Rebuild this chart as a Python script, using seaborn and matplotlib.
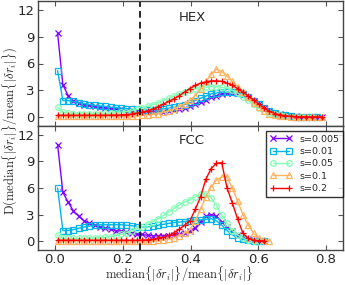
import numpy as np
import pandas as pd
import matplotlib
matplotlib.use("Agg")
import matplotlib.pyplot as plt
import seaborn as sns

# ---------------- data ----------------
n_bins = 64  # histogram bins on [0, 1]
labels = ["s=0.005", "s=0.01", "s=0.05", "s=0.1", "s=0.2"]

hex_s0005 = [9.4, 3.6, 2.4, 1.8, 1.6, 1.4, 1.3, 1.2, 1.1, 1.0, 1.0, 0.9, 0.85, 0.8, 0.75, 0.7,
             0.68, 0.63, 0.6, 0.6, 0.62, 0.68, 0.75, 0.85, 1.0, 1.2, 1.45, 1.7, 1.95, 2.2, 2.4,
             2.6, 2.7, 2.75, 2.7, 2.5, 2.2, 1.85, 1.45, 1.05, 0.72, 0.47, 0.3, 0.2, 0.12, 0.08,
             0.05, 0.03, 0.02, 0.01, 0.01]
hex_s001 = [5.2, 1.85, 1.85, 1.75, 1.6, 1.5, 1.4, 1.3, 1.25, 1.2, 1.1, 1.05, 1.0, 0.95, 0.9, 0.85,
            0.82, 0.8, 0.82, 0.85, 0.92, 1.0, 1.1, 1.2, 1.4, 1.6, 1.85, 2.1, 2.35, 2.6, 2.7,
            2.8, 2.85, 2.85, 2.75, 2.55, 2.25, 1.85, 1.45, 1.05, 0.7, 0.45, 0.28, 0.18, 0.1,
            0.06, 0.04, 0.02, 0.01, 0.01]
hex_s005 = [1.1, 0.55, 0.45, 0.4, 0.4, 0.4, 0.4, 0.4, 0.4, 0.42, 0.45, 0.5, 0.55, 0.62, 0.7, 0.85,
            1.0, 1.2, 1.4, 1.6, 1.85, 2.1, 2.35, 2.6, 2.8, 3.0, 3.15, 3.3, 3.35, 3.4, 3.4,
            3.35, 3.2, 3.0, 2.7, 2.3, 1.9, 1.45, 1.05, 0.7, 0.45, 0.3, 0.18, 0.1, 0.06, 0.04,
            0.02, 0.01, 0.0]
hex_s01 = [0.15, 0.1, 0.1, 0.1, 0.1, 0.1, 0.1, 0.1, 0.1, 0.1, 0.12, 0.12, 0.12, 0.13, 0.15, 0.17,
           0.2, 0.25, 0.3, 0.4, 0.55, 0.7, 0.9, 1.2, 1.5, 1.9, 2.4, 3.1, 4.0, 4.8, 5.35,
           5.1, 4.6, 4.0, 3.4, 2.8, 2.2, 1.6, 1.1, 0.7, 0.4, 0.25, 0.15, 0.08, 0.04, 0.02,
           0.02, 0.01, 0.01, 0.0, 0.0]
hex_s02 = [0.2, 0.2, 0.2, 0.2, 0.2, 0.2, 0.2, 0.2, 0.2, 0.2, 0.22, 0.22, 0.24, 0.27, 0.35, 0.45,
           0.55, 0.7, 0.9, 1.15, 1.45, 1.75, 2.05, 2.4, 2.8, 3.2, 3.55, 3.8, 3.95, 4.05, 4.05,
           4.0, 3.8, 3.55, 3.2, 2.8, 2.35, 1.9, 1.45, 1.0, 0.65, 0.4, 0.25, 0.15, 0.1, 0.06,
           0.04, 0.03, 0.02, 0.01, 0.01]

fcc_s0005 = [10.9, 5.5, 4.4, 3.4, 2.8, 2.3, 2.0, 1.8, 1.6, 1.5, 1.35, 1.2, 1.1, 1.0, 0.9, 0.8,
             0.75, 0.65, 0.6, 0.6, 0.6, 0.6, 0.65, 0.75, 0.9, 1.1, 1.5, 2.2, 2.8, 3.0, 2.8,
             2.2, 1.6, 1.1, 0.7, 0.4, 0.2, 0.1, 0.05, 0.02]
fcc_s001 = [6.0, 1.2, 1.2, 1.3, 1.45, 1.6, 1.7, 1.8, 1.85, 1.85, 1.85, 1.85, 1.85, 1.8, 1.75,
            1.65, 1.6, 1.6, 1.7, 1.8, 1.9, 2.0, 2.1, 2.15, 2.2, 2.3, 2.35, 2.4, 2.45, 2.55, 2.3,
            1.8, 1.2, 0.7, 0.4, 0.2, 0.1, 0.05, 0.02, 0.01]
fcc_s005 = [0.7, 0.35, 0.3, 0.3, 0.3, 0.3, 0.35, 0.35, 0.4, 0.45, 0.5, 0.6, 0.75, 0.95, 1.15,
            1.4, 1.65, 1.9, 2.2, 2.55, 2.9, 3.3, 3.7, 4.1, 4.4, 4.7, 5.0, 5.3, 5.35, 4.9, 4.0,
            2.9, 2.0, 1.2, 0.7, 0.35, 0.15, 0.07, 0.03, 0.01]
fcc_s01 = [0.05, 0.05, 0.05, 0.05, 0.05, 0.05, 0.05, 0.05, 0.05, 0.05, 0.05, 0.05, 0.05, 0.05,
           0.05, 0.05, 0.05, 0.05, 0.06, 0.1, 0.15, 0.25, 0.4, 0.6, 0.9, 1.3, 2.3, 3.6, 5.0,
           6.1, 6.9, 7.25, 7.2, 6.0, 4.5, 3.0, 1.8, 0.9, 0.35, 0.1, 0.03]
fcc_s02 = [0.1, 0.1, 0.1, 0.1, 0.1, 0.1, 0.1, 0.1, 0.1, 0.1, 0.1, 0.1, 0.1, 0.1, 0.1, 0.1,
           0.12, 0.15, 0.2, 0.3, 0.45, 0.65, 0.95, 1.35, 1.8, 2.3, 3.6, 5.0, 7.0, 8.2, 8.8,
           8.85, 6.0, 4.3, 2.5, 0.9, 0.3, 0.1, 0.05, 0.02]

hex_series = [hex_s0005, hex_s001, hex_s005, hex_s01, hex_s02]
fcc_series = [fcc_s0005, fcc_s001, fcc_s005, fcc_s01, fcc_s02]
panel_names = ["HEX", "FCC"]

# ---------------- style ----------------
sns.set_style("ticks")
plt.rcParams["font.family"] = ["DejaVu Sans"]
plt.rcParams["mathtext.fontset"] = "cm"

cmap = plt.get_cmap("rainbow")
colors = [cmap(v) for v in (0.0, 0.25, 0.5, 0.75, 1.0)]
markers = ["x", "s", "o", "^", "+"]

fig = plt.figure(figsize=(3.45, 2.85), dpi=100)
L, R = 38 / 345, 343 / 345
ax_top = fig.add_axes([L, 1 - 126 / 285, R - L, 125 / 285])
ax_bot = fig.add_axes([L, 1 - 250 / 285, R - L, 124 / 285], sharex=ax_top)

for ax, series, name, ty in zip([ax_top, ax_bot], [hex_series, fcc_series], panel_names, [11.1, 11.4]):
    for vals, lab, col, mk in zip(series, labels, colors, markers):
        xs = (np.arange(len(vals)) + 0.5) / n_bins
        df = pd.DataFrame({"x": xs, "y": vals})
        sns.lineplot(data=df, x="x", y="y", ax=ax, color=col, marker=mk, label=lab,
                     markersize=4, markerfacecolor="none", markeredgecolor=col,
                     markeredgewidth=0.9, linewidth=1.0, legend=False)
    ax.axvline(0.25, color="black", linestyle="--", linewidth=1.2, dashes=(4, 2.5))
    ax.text(0.405, ty, name, ha="center", va="center", fontsize=9.5)
    ax.set_ylim(-1, 13)
    ax.set_yticks([0, 3, 6, 9, 12])
    ax.set_xlim(-0.05, 0.85)
    ax.set_xticks([0.0, 0.2, 0.4, 0.6, 0.8])
    ax.set_xlabel("")
    ax.set_ylabel("")
    ax.tick_params(direction="in", top=True, right=True, length=3.5, width=0.8,
                   labelsize=9.5, color="#555555", pad=2.5)
    for sp in ax.spines.values():
        sp.set_color("#444444")
        sp.set_linewidth(1.0)

ax_top.tick_params(labelbottom=False)
ax_bot.tick_params(axis="x", pad=2)
ax_bot.set_xticklabels(["0.0", "0.2", "0.4", "0.6", "0.8"])

xl = ax_bot.set_xlabel(r"$\mathrm{median}\{|\delta r_i|\}/\mathrm{mean}\{|\delta r_i|\}$",
                       fontsize=9)
ax_bot.xaxis.set_label_coords(0.462, -0.14)
yl = fig.text(0.026, 0.54,
              r"$\mathrm{D}(\mathrm{median}\{|\delta r_i|\}/\mathrm{mean}\{|\delta r_i|\})$",
              rotation=90, ha="center", va="center", fontsize=9)

handles, labs = ax_bot.get_legend_handles_labels()
leg = ax_bot.legend(handles, labs, loc="upper right", bbox_to_anchor=(1.0, 0.96),
                    borderaxespad=0.0, fontsize=6.8, numpoints=2, handlelength=2.3,
                    labelspacing=0.35, fancybox=False, frameon=True, borderpad=0.4,
                    handletextpad=0.8)
leg.get_frame().set_edgecolor("black")
leg.get_frame().set_linewidth(1.0)

# keep labels inside the canvas
fig.canvas.draw()
r = fig.canvas.get_renderer()
bb = xl.get_window_extent(r)
if bb.y0 < 0.5:
    ax_h = ax_bot.get_window_extent(r).height
    ax_bot.xaxis.set_label_coords(0.462, -0.14 + (0.5 - bb.y0) / ax_h)
bb = yl.get_window_extent(r)
if bb.x0 < 0.5:
    yl.set_x(0.026 + (0.5 - bb.x0) / fig.bbox.width)

fig.savefig("out.png", dpi=100)
